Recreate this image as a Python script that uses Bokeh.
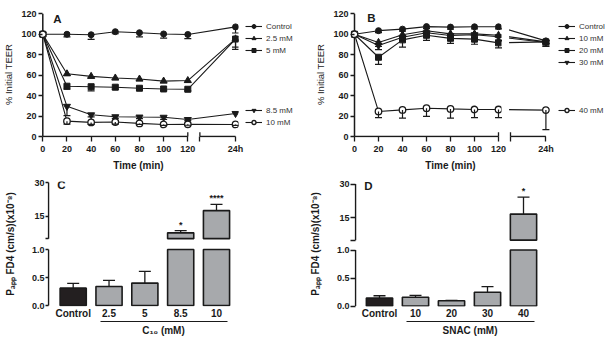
import numpy as np
from bokeh.plotting import figure
from bokeh.models import (Range1d, FixedTicker, LinearAxis, Legend, LegendItem, Whisker,
                          TeeHead, ColumnDataSource, Label, BoxAnnotation)
from bokeh.layouts import row, column
from bokeh.embed import file_html
from bokeh.resources import INLINE
from bokeh.core.properties import value

FONT = "Liberation Sans"
INK = "#1a1a1a"

# ---------------- data ----------------
TIME_MIN = [0, 20, 40, 60, 80, 100, 120]
TIME_24H_LABEL = "24h"
Y_TICKS_TEER = [0, 20, 40, 60, 80, 100, 120]

A_NAMES = ["Control", "2.5 mM", "5 mM", "8.5 mM", "10 mM"]
A_CONTROL = [100, 100, 99.5, 102.5, 101.5, 100.3, 99.8, 107.2]
A_2_5 = [100, 61.3, 58.8, 57.2, 56.2, 54.2, 54.7, 95.5]
A_5 = [100, 49.2, 48.7, 48.2, 47.2, 46.5, 46.2, 95.3]
A_8_5 = [100, 29.5, 21.2, 19.3, 19.0, 18.8, 16.6, 22.5]
A_10 = [100, 15.0, 13.8, 14.2, 12.8, 11.8, 12.0, 11.8]
A_ERR_CONTROL = [0, 2.5, 4.5, 2, 4, 4, 4, 6]
A_ERR_2_5 = [0, 1.5, 1.5, 1.5, 1.5, 1.5, 1.5, 8]
A_ERR_5 = [0, 3, 4, 2, 1.5, 1.5, 1.5, 10]
A_ERR_8_5 = [0, 9, 2, 1.5, 1.5, 2, 1, 0]
A_ERR_10 = [0, 3, 2, 2, 1, 1, 1, 1]

B_NAMES = ["Control", "10 mM", "20 mM", "30 mM", "40 mM"]
B_CONTROL = [100, 103.5, 105, 107.5, 107, 107.3, 107.3, 93.5]
B_10 = [100, 92, 99.5, 103.5, 100.4, 100.4, 99, 92.5]
B_20 = [100, 77.5, 94.5, 99, 96, 95.2, 91.6, 92.5]
B_30 = [100, 89, 97, 101.4, 98.8, 99.5, 97.5, 92]
B_40 = [100, 24.5, 26, 27.7, 27, 26.4, 26.4, 25.8]
B_ERR_CONTROL = [0, 2, 2, 2, 2, 2, 2, 2]
B_ERR_10 = [0, 4, 4, 5, 4, 4, 5, 3]
B_ERR_20 = [0, 7, 7, 5, 5, 5, 5, 4]
B_ERR_30 = [0, 4, 4, 4, 4, 4, 4, 4]
B_ERR_40 = [0, 6, 8, 8, 9, 8, 8, 19]

C_CATS = ["Control", "2.5", "5", "8.5", "10"]
C_VALS = [0.31, 0.34, 0.40, 7.6, 17.5]
C_ERRS = [0.085, 0.11, 0.21, 1.0, 2.8]
C_SIG = ["", "", "", "*", "****"]

D_CATS = ["Control", "10", "20", "30", "40"]
D_VALS = [0.143, 0.155, 0.095, 0.245, 16.6]
D_ERRS = [0.04, 0.035, 0.005, 0.10, 7.6]
D_SIG = ["", "", "", "", "*"]

LOWER_TICKS = [0, 0.5, 1.0]
LOWER_LABELS = ["0.0", "0.5", "1.0"]
UPPER_TICKS = [5, 15, 30]
UPPER_LABELS = [" ", "15", "30"]

# ---------------- layout constants ----------------
T24 = 159.5          # axis position used for the 24 h point
BREAK_END = 120
BREAK_START = 130
LOWER_TOP = 1.0
UPPER_BOTTOM = 5
GROUP_SPAN = (0.75, 4.3)

MARKERS = ["circle", "triangle", "square", "inverted_triangle", "circle"]
FILLS = [INK, INK, INK, INK, "white"]
SIZES = [6, 7, 6, 7, 6.5]

TOP_FRAME = (11, 137)      # frame top / bottom (px) of the upper row
BOT_FRAME = (6, 131)       # frame top / bottom (px) of the lower row


def linmap(p0, v0, p1, v1):
    return lambda px: v0 + (px - p0) * (v1 - v0) / (p1 - p0)


def style_text_axis(ax, size="9px", bold=True):
    ax.major_label_text_font = FONT
    ax.major_label_text_font_size = size
    ax.major_label_text_font_style = "bold" if bold else "normal"
    ax.major_label_text_color = INK
    ax.axis_label_text_font = FONT
    ax.axis_label_text_color = INK
    ax.minor_tick_line_color = None


def time_panel(names, series, errs, geom, fx, fy, letter, letter_xy, gap=None):
    w, h, l, r = geom
    t, fb = TOP_FRAME
    b = h - fb
    p = figure(width=w, height=h, output_backend="svg", toolbar_location=None,
               x_range=Range1d(fx(l), fx(w - r)), y_range=Range1d(fy(fb), fy(t)),
               min_border_left=l, min_border_right=r, min_border_top=t, min_border_bottom=b)
    p.outline_line_color = None
    p.grid.visible = False
    xs = TIME_MIN + [T24]

    xa = p.xaxis[0]
    xa.ticker = FixedTicker(ticks=TIME_MIN + [BREAK_START, T24])
    xa.major_label_overrides = {BREAK_START: " ", T24: TIME_24H_LABEL}
    xa.axis_line_color = None
    xa.major_tick_in = 1
    xa.major_tick_out = 4
    xa.major_tick_line_width = 1.3
    xa.major_tick_line_color = INK
    xa.major_label_standoff = 2
    xa.axis_label = "Time (min)"
    xa.axis_label_text_font_size = "10px"
    xa.axis_label_text_font_style = "bold"
    xa.axis_label_standoff = 3
    style_text_axis(xa)

    ya = p.yaxis[0]
    ya.ticker = FixedTicker(ticks=Y_TICKS_TEER)
    ya.axis_line_color = None
    ya.major_tick_in = 4
    ya.major_tick_out = 0
    ya.major_tick_line_width = 1.3
    ya.major_tick_line_color = INK
    ya.major_label_standoff = 2
    ya.axis_label = "% Initial TEER"
    ya.axis_label_text_font_size = "9.5px"
    ya.axis_label_text_font_style = "normal"
    ya.axis_label_standoff = 4
    style_text_axis(ya)

    # axis lines (broken x axis)
    p.segment(x0=[0], y0=[0], x1=[0], y1=[Y_TICKS_TEER[-1]], line_color=INK, line_width=1.5)
    p.segment(x0=[0, BREAK_START], y0=[0, 0], x1=[BREAK_END, T24], y1=[0, 0],
              line_color=INK, line_width=1.5)
    p.segment(x0=[BREAK_END, BREAK_START], y0=[0, 0], x1=[BREAK_END, BREAK_START],
              y1=[4.2, 4.2], line_color=INK, line_width=1.3)

    for ys in series:
        p.line(xs, ys, line_color=INK, line_width=1.1)
    if gap is not None:
        p.add_layout(BoxAnnotation(left=gap[0], right=gap[1], bottom=1, top=121,
                                   fill_color="white", fill_alpha=1, line_color=None,
                                   level="glyph"))
    for ys, es in zip(series, errs):
        keep = [i for i, e in enumerate(es) if e > 0]
        src = ColumnDataSource(dict(base=[xs[i] for i in keep],
                                    lower=[ys[i] - es[i] for i in keep],
                                    upper=[ys[i] for i in keep]))
        p.add_layout(Whisker(source=src, base="base", lower="lower", upper="upper",
                             dimension="height", line_color=INK, line_width=1.2,
                             lower_head=TeeHead(size=7, line_color=INK, line_width=1.2),
                             upper_head=None, level="glyph"))
    for k, ys in enumerate(series):
        p.scatter(xs, ys, marker=MARKERS[k], size=SIZES[k], fill_color=FILLS[k],
                  line_color=INK, line_width=1.3 if FILLS[k] == "white" else 1)

    p.add_layout(Label(x=letter_xy[0], y=letter_xy[1], text=letter, text_font=FONT,
                       text_font_size="11.5px", text_font_style="bold", text_color=INK,
                       text_align="center", text_baseline="middle"))
    return p


def legend_panel(names, width, height, x_off, n_blank, n_top):
    t, fb = TOP_FRAME
    q = figure(width=width, height=height, output_backend="svg", toolbar_location=None,
               x_axis_location=None, y_axis_location=None,
               min_border_left=0, min_border_right=0, min_border_top=t,
               min_border_bottom=height - fb,
               x_range=Range1d(0, 1), y_range=Range1d(0, 1))
    q.outline_line_color = None
    q.grid.visible = False
    items = []
    # legend proxies: one point each, placed outside the visible range
    blank = q.line(x=[-5, -4], y=[-5, -5], line_alpha=0)
    for k, nm in enumerate(names):
        if k == n_top:
            for _ in range(n_blank):
                items.append(LegendItem(label=" ", renderers=[blank]))
        ln = q.line(x=[-5, -4], y=[-5, -5], line_color=INK, line_width=1.1)
        mk = q.scatter(x=[-5], y=[-5], marker=MARKERS[k], size=SIZES[k], fill_color=FILLS[k],
                       line_color=INK, line_width=1.3 if FILLS[k] == "white" else 1)
        items.append(LegendItem(label=nm, renderers=[ln, mk]))
    n = len(items)
    gh, sp = 10, 2
    leg_h = n * gh + (n - 1) * sp
    top_px = 26 - gh / 2
    vy = fb - (top_px + leg_h)
    leg = Legend(items=items, location=(x_off, vy), orientation="vertical",
                 glyph_width=17, glyph_height=gh, label_height=gh, label_width=10,
                 spacing=sp, padding=0, margin=0, border_line_color=None,
                 background_fill_alpha=0, label_text_font=FONT, label_text_font_size="8px",
                 label_text_color="#333333", label_standoff=4)
    q.add_layout(leg)
    return q


def bar_panel(cats, vals, errs, sig, geom, fx, fy_main, fy_up, axis_px, ylabel, xlabel,
              letter, letter_xy, tick_out):
    w, h, l, r = geom
    t, fb = BOT_FRAME
    b = h - fb
    p = figure(width=w, height=h, output_backend="svg", toolbar_location=None,
               x_range=Range1d(fx(l), fx(w - r)), y_range=Range1d(fy_main(fb), fy_main(t)),
               min_border_left=l, min_border_right=r, min_border_top=t, min_border_bottom=b)
    p.extra_y_ranges = {"upper": Range1d(fy_up(fb), fy_up(t))}
    p.outline_line_color = None
    p.grid.visible = False

    idx = np.arange(len(cats))
    vals = np.asarray(vals, dtype=float)
    errs = np.asarray(errs, dtype=float)
    up = vals > LOWER_TOP
    colors = np.array(["#231f20"] + ["#a7a9ac"] * (len(cats) - 1))

    # y axis: lower ticks on main range, upper ticks mapped from the upper range
    mr, ur = p.y_range, p.extra_y_ranges["upper"]
    to_main = linmap(ur.start, mr.start, ur.end, mr.end)
    up_pos = [float(to_main(v)) for v in UPPER_TICKS]
    ya = p.yaxis[0]
    ya.ticker = FixedTicker(ticks=LOWER_TICKS + up_pos)
    ov = {}
    for tv, lb in zip(LOWER_TICKS, LOWER_LABELS):
        ov[tv] = lb
    for tv, lb in zip(up_pos, UPPER_LABELS):
        ov[tv] = lb
    ya.major_label_overrides = ov
    ya.axis_line_color = None
    ya.major_tick_in = 1
    ya.major_tick_out = tick_out
    ya.major_tick_line_width = 1.3
    ya.major_tick_line_color = INK
    ya.major_label_standoff = 1
    ya.axis_label = ylabel
    ya.axis_label_text_font_size = "10px"
    ya.axis_label_text_font_style = "bold"
    ya.axis_label_standoff = 13
    style_text_axis(ya)

    x_axis_line = fx(axis_px)
    p.segment(x0=[x_axis_line], y0=[LOWER_TICKS[0]], x1=[x_axis_line], y1=[LOWER_TICKS[-1]],
              line_color=INK, line_width=1.5)
    p.segment(x0=[x_axis_line], y0=[UPPER_TICKS[0]], x1=[x_axis_line], y1=[UPPER_TICKS[-1]],
              line_color=INK, line_width=1.5, y_range_name="upper")

    xa = p.xaxis[0]
    xa.ticker = FixedTicker(ticks=list(range(len(cats))))
    xa.major_label_overrides = {i: c for i, c in enumerate(cats)}
    xa.axis_line_color = None
    xa.major_tick_in = 0
    xa.major_tick_out = 0
    xa.major_label_standoff = 1
    style_text_axis(xa, size="10px")

    grp = LinearAxis(bounds=GROUP_SPAN, ticker=FixedTicker(ticks=[]), axis_label=xlabel,
                     axis_line_color=INK, axis_line_width=1, major_tick_out=0, major_tick_in=0,
                     minor_tick_out=0, minor_tick_in=0, axis_label_standoff=3)
    style_text_axis(grp)
    grp.axis_label_text_font_size = "10px"
    grp.axis_label_text_font_style = "bold"
    p.add_layout(grp, "below")

    bw = 0.73
    p.vbar(x=idx, width=bw, bottom=0, top=np.minimum(vals, LOWER_TOP), fill_color=colors,
           line_color=INK, line_width=1.6)
    if up.any():
        p.vbar(x=idx[up], width=bw, bottom=UPPER_BOTTOM, top=vals[up], fill_color=colors[up],
               line_color=INK, line_width=1.6, y_range_name="upper")

    lo = ~up
    for mask, rng in ((lo, "default"), (up, "upper")):
        if not mask.any():
            continue
        src = ColumnDataSource(dict(base=idx[mask], lower=vals[mask],
                                    upper=vals[mask] + errs[mask]))
        p.add_layout(Whisker(source=src, base="base", lower="lower", upper="upper",
                             dimension="height", line_color=INK, line_width=1.3,
                             upper_head=TeeHead(size=12, line_color=INK, line_width=1.3),
                             lower_head=None, y_range_name=rng))

    keep = [i for i, s in enumerate(sig) if s]
    if keep:
        p.text(x=[int(i) for i in keep], y=[float(vals[i] + errs[i]) for i in keep],
               text=[sig[i] for i in keep], y_range_name="upper", text_align="center",
               text_baseline="middle", y_offset=-6, text_font=value(FONT),
               text_font_size="9px", text_font_style="bold", text_color=INK)

    p.add_layout(Label(x=letter_xy[0], y=letter_xy[1], y_range_name="upper", text=letter,
                       text_font=FONT, text_font_size="11.5px", text_font_style="bold",
                       text_color=INK, text_align="center", text_baseline="middle"))
    return p


# panel A (plot 245 px + legend 58 px)
fxA = linmap(42.3, 0, 187.3, 120)
fyA = linmap(136, 0, 13.3, 120)
pA = time_panel(A_NAMES, [A_CONTROL, A_2_5, A_5, A_8_5, A_10],
                [A_ERR_CONTROL, A_ERR_2_5, A_ERR_5, A_ERR_8_5, A_ERR_10],
                (245, 175, 38, 7), fxA, fyA, "A", (12, 115))
lA = legend_panel(A_NAMES, 58, 175, 0, 4, 3)

# panel B (plot 252 px + legend 51 px)
fxB = linmap(51, 0, 195, 120)
fyB = linmap(136, 0, 13.3, 120)
pB = time_panel(B_NAMES, [B_CONTROL, B_10, B_20, B_30, B_40],
                [B_ERR_CONTROL, B_ERR_10, B_ERR_20, B_ERR_30, B_ERR_40],
                (252, 175, 47, 5), fxB, fyB, "B", (14, 116), gap=(122.5, 128.8))
lB = legend_panel(B_NAMES, 51, 175, 3, 3, 4)

# panel C
fxC = linmap(72.7, 0, 216, 4)
pC = bar_panel(C_CATS, C_VALS, C_ERRS, C_SIG, (303, 172, 47, 24), fxC,
               linmap(130, 0, 74, 1), linmap(7, 30, 40.7, 15), 48,
               "Pₐₚₚ FD4 (cm/s)(x10⁻⁸)", "C₁₀ (mM)", "C", (-0.33, 28.7), 2)

# panel D
fxD = linmap(76, 0, 220, 4)
pD = bar_panel(D_CATS, D_VALS, D_ERRS, D_SIG, (303, 172, 51, 21), fxD,
               linmap(130.5, 0, 74.5, 1), linmap(8.5, 30, 42.2, 15), 52,
               "Pₐₚₚ FD4 (cm/s)(x10⁻⁸)", "SNAC (mM)", "D", (-0.31, 29.0), 4)

layout = column(row(pA, lA, pB, lB), row(pC, pD))
open("out.html", "w").write(file_html(layout, INLINE))
